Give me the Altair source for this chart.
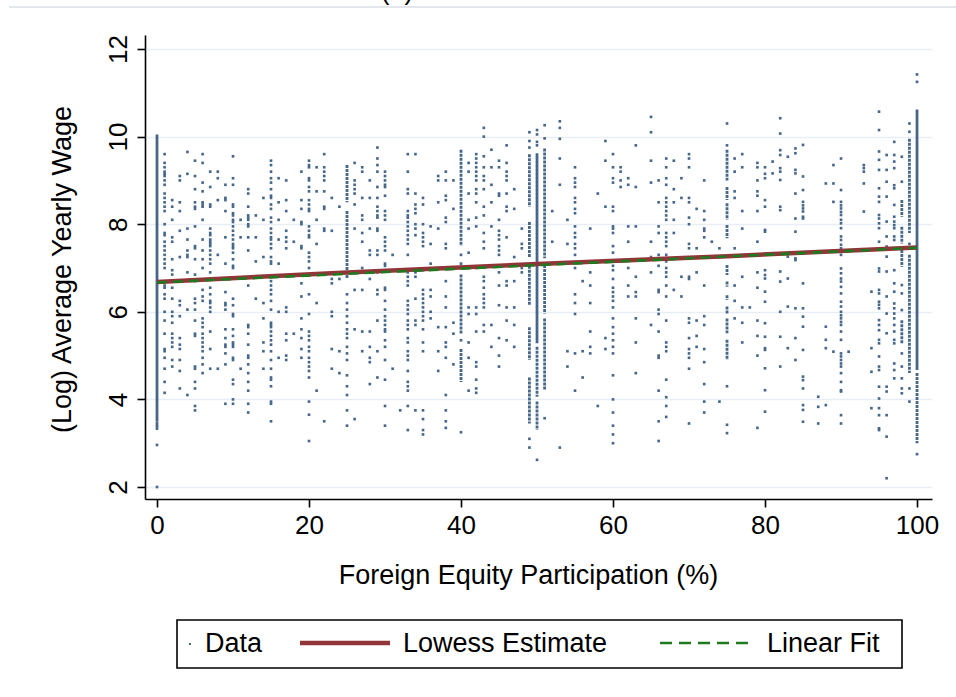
import altair as alt
import pandas as pd

# ---------------- data ----------------
# sparse columns of observations: x (foreign equity %) -> list of log wages
scatter_columns = {
    0: [3.47, 3.42, 3.38, 3.33, 2.96, 2.0],
    1: [9.6, 9.4, 9.3, 9.2, 9.15, 9.1, 9.0, 8.9, 8.7, 8.6, 8.5, 8.4, 8.3, 8.0, 7.8, 7.75, 7.6, 7.5, 7.4, 7.3,
        7.2, 7.1, 7.0, 6.6, 6.55, 6.4, 6.3, 6.0, 5.8, 5.5, 5.15, 5.1, 4.95, 4.7, 4.4, 4.15],
    2: [8.55, 8.4, 8.1, 7.7, 7.6, 7.2, 6.95, 6.85, 6.55, 6.3, 6.0, 5.9, 5.75, 5.5, 5.4, 5.3, 5.2, 4.9, 4.75],
    3: [9.1, 9.0, 8.5, 8.3, 7.85, 7.25, 6.25, 6.15, 5.9, 5.4, 5.25, 5.15, 4.9, 4.65, 4.25],
    4: [9.65, 9.15, 7.9, 7.65, 7.4, 7.3, 7.25, 6.9, 6.05, 4.1],
    5: [9.45, 9.1, 8.8, 8.5, 8.4, 8.35, 7.95, 7.5, 7.45, 7.2, 6.85, 6.7, 6.3, 6.2, 6.05, 5.8, 5.5, 5.45,
        4.75, 4.7, 4.4, 4.25, 3.85, 3.75],
    6: [9.6, 9.4, 8.95, 8.75, 8.5, 8.45, 8.4, 8.1, 7.65, 7.4, 7.2, 7.0, 6.5, 6.35, 6.25, 5.85, 5.75, 5.65,
        5.5, 5.4, 5.3, 5.2, 5.1, 4.95, 4.8, 4.6],
    7: [9.2, 8.85, 8.45, 8.4, 7.9, 7.8, 7.75, 7.65, 7.6, 7.55, 7.5, 7.4, 7.3, 7.2, 7.1, 6.9, 6.55, 6.4,
        6.25, 6.2, 6.1, 6.0, 5.55, 5.15, 4.7],
    8: [9.2, 9.05, 8.55, 7.3, 4.7],
    9: [8.9, 8.6, 8.55, 8.3, 7.7, 7.1, 6.45, 6.2, 6.15, 6.05, 5.6, 5.4, 5.25, 5.2, 5.05, 4.8, 3.9],
    10: [9.55, 9.05, 8.9, 8.45, 8.4, 8.25, 8.2, 8.1, 8.05, 7.95, 7.85, 7.75, 7.65, 7.55, 7.5, 7.45, 7.35,
         7.2, 7.05, 7.0, 6.3, 6.15, 5.95, 5.9, 5.6, 5.45, 5.3, 5.25, 5.2, 4.95, 4.9, 4.45, 4.35, 4.0, 3.9],
    11: [8.1, 7.7, 4.7],
    12: [8.8, 8.7, 8.4, 8.2, 8.15, 8.1, 8.0, 7.95, 7.7, 7.4, 6.6, 5.7, 5.65, 5.5, 5.25, 5.0, 4.95, 4.8,
         4.6, 4.4, 4.2, 3.9, 3.7],
    13: [8.2, 7.7, 7.15, 6.3],
    14: [8.6, 8.1, 7.25, 6.2, 5.85, 5.3, 5.1, 4.7],
    15: [9.45, 9.35, 9.2, 9.05, 8.95, 8.8, 8.65, 8.6, 8.45, 8.35, 8.15, 8.05, 7.9, 7.8, 7.7, 7.65, 7.55,
         7.45, 7.25, 7.15, 7.1, 6.7, 6.6, 6.5, 6.4, 6.25, 6.05, 5.75, 5.7, 5.65, 5.55, 5.45, 5.35, 5.25,
         5.1, 4.9, 4.7, 4.5, 4.45, 4.3, 3.95, 3.9, 3.5],
    16: [9.05, 8.5, 8.1, 7.65, 7.1, 6.0, 4.95],
    17: [9.0, 8.55, 8.3, 7.85, 7.7, 7.6, 7.45, 6.1, 6.0, 5.5, 5.35, 5.0, 4.9],
    18: [8.1, 7.6, 5.5],
    19: [9.2, 8.55, 8.35, 8.05, 8.0, 7.5, 7.45, 6.65, 6.35, 5.85, 5.6, 5.4, 5.15, 4.95],
    20: [9.45, 9.35, 9.3, 9.05, 9.0, 8.85, 8.75, 8.55, 8.45, 8.35, 8.3, 7.95, 7.85, 7.75, 7.7, 7.35, 7.25,
         7.15, 7.0, 6.4, 5.95, 5.55, 5.45, 5.35, 5.2, 5.1, 4.95, 4.85, 4.75, 4.65, 4.5, 3.95, 3.65, 3.05],
    21: [9.3, 8.75, 8.1, 7.55, 6.2, 4.2],
    22: [9.6, 9.3, 9.2, 9.1, 9.0, 8.75, 8.4, 8.35, 7.9, 7.85, 3.5],
    23: [8.6, 7.85, 6.75, 6.65, 6.0, 5.9, 5.15, 4.7],
    24: [8.4, 6.75, 5.1, 4.6],
    25: [6.4, 6.2, 6.05, 5.9, 5.75, 5.6, 5.5, 5.4, 5.2, 5.05, 4.9, 4.55, 4.3, 4.1, 3.75, 3.4],
    26: [9.4, 9.0, 8.9, 8.8, 8.7, 8.45, 7.9, 6.5, 5.6, 3.55],
    27: [9.3, 9.2, 8.6, 8.2, 8.1, 7.8, 7.6, 7.0, 6.5, 5.55, 5.1],
    28: [9.0, 8.6, 7.9, 7.4, 7.3, 6.75, 5.55, 5.2, 4.95, 4.85, 4.35],
    29: [9.75, 9.5, 9.35, 9.2, 8.85, 8.6, 8.4, 8.3, 8.2, 8.15, 7.9, 7.85, 7.4, 7.3, 6.9, 6.5, 6.4, 5.8, 5.1, 4.5],
    30: [9.2, 9.1, 9.0, 8.9, 8.85, 8.65, 8.3, 8.2, 8.1, 7.7, 7.6, 7.5, 7.4, 7.1, 7.05, 6.95, 6.55, 6.5,
         6.25, 6.05, 5.9, 5.8, 5.7, 5.6, 5.55, 5.35, 5.2, 4.9, 4.45, 3.85, 3.4],
    31: [7.3, 4.7],
    32: [3.75],
    33: [9.6, 9.2, 8.8, 8.7, 8.3, 8.2, 8.15, 8.05, 7.95, 7.85, 7.75, 7.65, 7.55, 7.3, 6.9, 6.8, 6.7, 6.6,
         6.25, 6.15, 6.05, 5.95, 5.8, 5.7, 5.6, 5.4, 5.3, 5.1, 5.0, 4.9, 4.65, 4.4, 4.3, 4.2, 3.85, 3.3],
    34: [9.6, 8.7, 8.45, 8.35, 8.25, 8.0, 7.9, 7.75, 6.9, 6.8, 6.3, 5.8, 5.7, 3.75],
    35: [8.6, 8.45, 8.0, 7.8, 7.7, 7.6, 7.5, 6.95, 6.5, 6.4, 6.3, 6.2, 6.1, 6.0, 5.9, 5.8, 5.6, 5.3, 5.1,
         3.75, 3.55, 3.3, 3.2],
    36: [7.95, 7.55, 7.1, 6.5, 6.35, 6.0, 5.85],
    37: [9.1, 9.0, 8.5, 7.9, 5.65, 5.1, 4.65],
    38: [9.2, 9.0, 8.65, 8.55, 8.15, 8.05, 7.55, 7.45, 7.0, 6.7, 6.35, 6.1, 5.65, 5.3, 5.2, 4.95, 4.1,
         3.75, 3.5, 3.35],
    39: [9.0, 8.35, 5.75, 5.5, 4.8],
    40: [7.3, 7.1, 5.35, 3.25],
    41: [9.4, 9.2, 8.7, 8.1, 7.9, 7.35, 6.1, 5.95, 5.3, 4.95, 4.2],
    42: [9.6, 9.5, 9.4, 9.3, 9.2, 9.1, 9.0, 8.8, 8.7, 8.5, 8.15, 7.95, 7.0, 6.1, 5.95, 5.55, 4.85, 4.75,
         4.45, 4.25, 4.15],
    43: [10.2, 10.0, 9.55, 9.3, 9.1, 9.0, 8.8, 8.4, 8.2, 7.8, 7.6, 7.45, 6.8, 6.7, 6.55, 6.4, 6.3, 6.2,
         6.1, 5.7, 5.55],
    44: [9.7, 9.3, 8.9, 8.5, 7.95, 5.7, 5.2],
    45: [9.45, 9.3, 8.7, 8.65, 8.1, 7.85, 7.75, 7.65, 7.5, 7.4, 7.3, 6.9, 6.6, 6.15, 5.4, 5.0, 4.75],
    46: [9.8, 9.4, 9.2, 9.1, 9.0, 8.7, 8.4, 8.3, 7.7, 6.7, 6.6, 6.1, 5.8, 5.35],
    47: [8.8, 8.35, 7.25, 6.7, 6.1, 5.7, 5.2],
    48: [7.9, 7.55, 7.45, 7.0, 6.9],
    49: [10.1, 9.9, 9.75, 3.1, 2.9],
    50: [10.15, 10.05, 9.88, 9.8, 2.62],
    51: [10.26, 9.96, 3.57],
    52: [8.3, 7.6],
    53: [10.35, 10.2, 9.95, 9.5, 8.9, 2.9],
    54: [8.1, 7.55, 5.1, 4.75],
    55: [9.3, 9.05, 8.95, 8.85, 8.6, 8.5, 8.35, 8.25, 7.95, 7.8, 7.7, 7.55, 7.45, 7.3, 7.0, 6.4, 6.2,
         5.95, 5.05, 4.2],
    56: [6.7, 5.1, 4.5],
    57: [7.9, 6.9, 6.6, 6.2, 5.55, 5.2, 5.05],
    58: [8.7, 3.85],
    59: [9.9, 9.45, 8.4, 5.4, 5.15],
    60: [9.6, 9.3, 9.05, 8.95, 8.4, 8.3, 7.95, 7.9, 7.8, 7.5, 7.35, 7.05, 6.95, 6.75, 6.55, 6.45, 6.35,
         6.25, 6.1, 5.85, 5.65, 5.5, 5.35, 5.2, 5.05, 4.55, 4.0, 3.7, 3.4, 3.2, 3.0],
    61: [9.3, 9.2, 9.0, 8.85],
    62: [9.05, 8.9, 7.95, 7.6, 7.0, 6.6, 6.35],
    63: [9.8, 8.85, 7.95, 6.8, 6.45, 6.35, 5.85, 5.3, 4.6],
    65: [10.45, 10.1, 9.45, 8.95, 7.6, 7.25, 6.9, 5.7],
    66: [9.0, 8.5, 7.95, 7.8, 7.3, 7.2, 7.05, 6.5, 6.45, 6.05, 5.95, 5.55, 5.0, 4.95, 4.2, 3.5, 3.05],
    67: [9.5, 9.3, 9.05, 8.9, 8.6, 8.5, 8.4, 8.3, 8.2, 8.1, 7.8, 7.7, 7.6, 7.5, 7.3, 7.15, 7.0, 6.9, 6.8,
         6.6, 6.35, 5.8, 5.3, 5.2, 5.1, 4.45, 4.05, 3.85, 3.6],
    68: [9.45, 8.8, 8.5, 8.1, 7.8, 6.5],
    69: [9.05, 8.6, 6.8, 6.35],
    70: [9.6, 9.5, 9.3, 8.6, 8.5, 8.15, 8.0, 7.55, 7.45, 6.8, 6.75, 5.85, 5.75, 5.4, 5.15, 5.05, 4.95,
         4.7, 3.45],
    71: [8.35, 7.45, 6.9, 5.8, 5.45, 5.2],
    72: [9.0, 8.3, 8.1, 7.9, 7.85, 7.7, 6.6, 5.9, 5.7, 5.15, 4.85, 4.35, 3.95, 3.7],
    73: [7.6],
    74: [7.45, 3.95],
    75: [10.3, 9.8, 4.3, 3.42, 3.23],
    76: [9.5, 9.2, 8.75, 8.6, 7.45, 6.6, 6.25, 5.85],
    77: [9.6, 9.3, 8.3, 7.9, 6.8, 6.1, 5.75, 5.3],
    78: [6.1],
    79: [9.4, 9.3, 9.0, 8.75, 8.65, 8.3, 7.6, 6.9, 6.55, 5.8, 5.45, 5.0, 3.35],
    80: [9.3, 9.15, 9.05, 8.55, 8.4, 7.87, 7.83, 7.3, 6.95, 6.84, 6.76, 6.46, 6.23, 5.74, 5.43, 5.17,
         5.13, 4.71, 4.21, 3.72],
    81: [9.43, 9.16],
    82: [10.42, 10.07, 9.69, 9.58, 9.28, 9.2, 9.01, 8.4, 8.32, 6.92, 6.69, 6.0, 5.43, 4.75],
    83: [9.54, 7.26, 6.76, 6.12, 5.17],
    84: [9.73, 9.62, 9.24, 9.16, 8.7, 8.13, 7.83, 7.22, 7.18, 6.08, 5.4, 4.9],
    85: [9.81, 9.09, 8.78, 8.51, 8.43, 8.36, 8.29, 8.17, 8.13, 6.65, 6.08, 5.89, 5.66, 5.13, 4.52, 4.44,
         4.25, 3.87, 3.76, 3.49],
    87: [4.06, 3.83, 3.45],
    88: [8.93, 5.66, 5.36, 5.17, 3.87],
    89: [9.35, 8.93, 8.51, 5.09],
    90: [9.5, 8.78, 8.51, 8.43, 8.36, 8.28, 8.21, 8.1, 8.02, 7.91, 7.72, 7.64, 7.53, 7.45, 7.3, 6.99,
         6.88, 6.76, 6.69, 6.57, 6.42, 6.23, 6.12, 6.0, 5.92, 5.85, 5.77, 5.7, 5.55, 5.36, 5.05, 4.98,
         4.9, 4.82, 4.75, 4.6, 4.4, 4.21, 4.18, 3.64, 3.45],
    91: [5.09],
    93: [9.35, 9.28, 9.2, 8.93, 8.29],
    94: [6.46, 5.17, 4.63, 3.8],
    95: [10.57, 10.15, 9.66, 9.47, 9.24, 8.82, 8.63, 8.51, 8.21, 8.13, 8.02, 7.91, 7.6, 6.99, 6.92, 6.5,
         6.42, 6.23, 6.16, 6.08, 5.81, 5.7, 5.58, 5.36, 5.28, 4.98, 4.75, 4.67, 4.29, 4.02, 3.8, 3.64,
         3.34, 3.3],
    96: [9.58, 9.24, 8.97, 8.63, 8.06, 7.72, 7.49, 7.26, 6.92, 6.35, 5.96, 5.51, 4.29, 4.18, 3.64, 3.15, 2.2],
    97: [9.88, 9.58, 9.43, 9.28, 8.89, 8.82, 8.44, 8.17, 8.06, 7.98, 7.91, 7.72, 7.64, 6.95, 6.65, 6.46,
         6.19, 6.08, 5.96, 5.85, 5.7, 5.55, 5.36, 5.28, 4.82, 4.67, 4.48],
    98: [9.54, 8.97, 6.61, 6.42, 6.04, 5.05, 4.75, 4.48, 4.25, 4.14],
    99: [10.3, 10.11, 7.55, 4.25, 3.95],
    100: [11.42, 11.25, 2.75],
}

# dense runs of observations (drawn as vertical runs): x, upper and lower log wage, style
dense_x =      [0,     25,   25,   40,   40,   40,   49,   49,   49,   49,   49,   50,   50,   50,
                51,   51,   51,   75,   75,   75,   75,   75,   75,   75,   75,   75,   75,
                98,   98,   98,   98,   99,   99,   100,   100]
dense_top =    [10.05, 9.35, 8.3,  9.7,  6.85, 5.15, 9.6,  8.05, 7.05, 5.65, 4.5,  9.62, 5.2,  3.95,
                9.73, 7.07, 5.85, 9.7,  8.85, 8.48, 7.98, 7.07, 6.69, 6.38, 6.12, 5.85, 5.36,
                8.55, 7.94, 7.41, 5.81, 9.95, 7.3,  10.62, 4.6]
dense_bottom = [3.5,   8.5,  6.75, 7.5,  5.5,  4.4,  8.4,  7.25, 6.15, 4.9,  3.45, 5.28, 4.06, 3.3,
                7.22, 5.96, 4.21, 9.0,  8.55, 8.1,  7.68, 6.84, 6.57, 6.27, 5.96, 5.51, 4.9,
                8.17, 7.56, 7.03, 5.28, 7.8,  4.6,  4.67,  3.0]
dense_style =  ["solid", "dotted", "dotted", "dotted", "dotted", "dotted", "dotted", "dotted", "dotted",
                "dotted", "dotted", "solid", "dotted", "dotted", "dotted", "dotted", "dotted",
                "dotted", "dotted", "dotted", "dotted", "dotted", "dotted", "dotted", "dotted", "dotted",
                "dotted", "dotted", "dotted", "dotted", "dotted", "dotted", "dotted", "solid", "dotted"]

lowess_x = [0, 25, 50, 75, 100]
lowess_y = [6.68, 6.90, 7.09, 7.27, 7.47]
linfit_x = [0, 100]
linfit_y = [6.67, 7.46]

x_ticks = [0, 20, 40, 60, 80, 100]
y_ticks = [2, 4, 6, 8, 10, 12]

legend_labels = ["Data", "Lowess Estimate", "Linear Fit"]

# ---------------- build tables ----------------
rows = []
for xv, yl in scatter_columns.items():
    for yv in yl:
        rows.append({"x": xv, "y": yv})
pts = pd.DataFrame(rows)
segs = pd.DataFrame({"x": dense_x, "top": dense_top, "bottom": dense_bottom, "style": dense_style})
low = pd.DataFrame({"x": lowess_x, "y": lowess_y})
lin = pd.DataFrame({"x": linfit_x, "y": linfit_y})

FONT = "Liberation Sans"
DOT = "#46678a"
RED = "#923539"
GREEN = "#1f7a1f"

xscale = alt.Scale(domain=[-1.58, 101.97], nice=False, zero=False)
yscale = alt.Scale(domain=[1.726, 12.32], nice=False, zero=False)

xaxis = alt.Axis(values=x_ticks, title="Foreign Equity Participation (%)", grid=False,
                 titleX=383, titleY=76, titleBaseline="middle", titleAlign="center",
                 labelPadding=5, format="d")
yaxis = alt.Axis(values=y_ticks, title="(Log) Average Yearly Wage", grid=True,
                 labelAngle=-90, titleAngle=-90, titleX=-83, titleY=234,
                 titleBaseline="middle", titleAlign="center", labelPadding=6, format="d")

points = alt.Chart(pts).mark_square(size=7, color=DOT, opacity=1).encode(
    x=alt.X("x:Q", scale=xscale, axis=xaxis),
    y=alt.Y("y:Q", scale=yscale, axis=yaxis),
)
dense = alt.Chart(segs).mark_rule(strokeWidth=2.8, color=DOT).encode(
    x=alt.X("x:Q", scale=xscale),
    y=alt.Y("top:Q", scale=yscale),
    y2="bottom:Q",
    strokeDash=alt.StrokeDash("style:N", scale=alt.Scale(domain=["solid", "dotted"],
                                                          range=[[1, 0], [3, 1]]), legend=None),
)
lowess = alt.Chart(low).mark_line(color=RED, strokeWidth=4.5).encode(
    x=alt.X("x:Q", scale=xscale), y=alt.Y("y:Q", scale=yscale))
linfit = alt.Chart(lin).mark_line(color=GREEN, strokeWidth=2.6, strokeDash=[10, 6]).encode(
    x=alt.X("x:Q", scale=xscale), y=alt.Y("y:Q", scale=yscale))

# ---------------- legend (decoration below the plot) ----------------
one = pd.DataFrame({"k": [0]})
leg_box = alt.Chart(one).mark_rect(fill="white", stroke="black", strokeWidth=1.6).encode(
    x=alt.value(32), x2=alt.value(757), y=alt.value(585), y2=alt.value(633))
leg_dot = alt.Chart(one).mark_square(size=4, color=DOT, opacity=1).encode(
    x=alt.value(45), y=alt.value(609))
leg_red = alt.Chart(one).mark_rule(color=RED, strokeWidth=4.5).encode(
    x=alt.value(155), x2=alt.value(245), y=alt.value(608))
leg_green = alt.Chart(one).mark_rule(color=GREEN, strokeWidth=2.6, strokeDash=[12, 7]).encode(
    x=alt.value(515), x2=alt.value(605), y=alt.value(608))
leg_t1 = alt.Chart(one).mark_text(text=legend_labels[0], font=FONT, fontSize=27, align="left",
                                  baseline="middle", color="black").encode(x=alt.value(60), y=alt.value(609))
leg_t2 = alt.Chart(one).mark_text(text=legend_labels[1], font=FONT, fontSize=27, align="left",
                                  baseline="middle", color="black").encode(x=alt.value(258), y=alt.value(609))
leg_t3 = alt.Chart(one).mark_text(text=legend_labels[2], font=FONT, fontSize=27, align="left",
                                  baseline="middle", color="black").encode(x=alt.value(622), y=alt.value(609))

top_line = alt.Chart(one).mark_rule(color="#e3e7ec", strokeWidth=2).encode(
    x=alt.value(-136), x2=alt.value(820), y=alt.value(-28))
top_title = alt.Chart(one).mark_text(text="(a)", font=FONT, fontSize=27, align="center",
                                     baseline="alphabetic", color="black").encode(
    x=alt.value(252), y=alt.value(-36))

chart = alt.layer(points, dense, lowess, linfit, leg_box, leg_dot, leg_red, leg_green,
                  leg_t1, leg_t2, leg_t3, top_line, top_title).properties(
    width=787, height=464,
    autosize=alt.AutoSizeParams(type="none"),
    padding={"left": 145, "top": 35, "right": 24, "bottom": 198},
    background="white",
).configure_view(stroke=None).configure_axis(
    domainColor="black", domainWidth=1.6, tickColor="black", tickWidth=1.6, tickSize=8,
    labelFont=FONT, labelFontSize=26, labelColor="black",
    titleFont=FONT, titleFontSize=27, titleFontWeight="normal", titleColor="black",
    gridColor="#e8eef3", gridWidth=1.5,
)

chart.save("out.html", embed_options={"renderer": "svg", "actions": False})
